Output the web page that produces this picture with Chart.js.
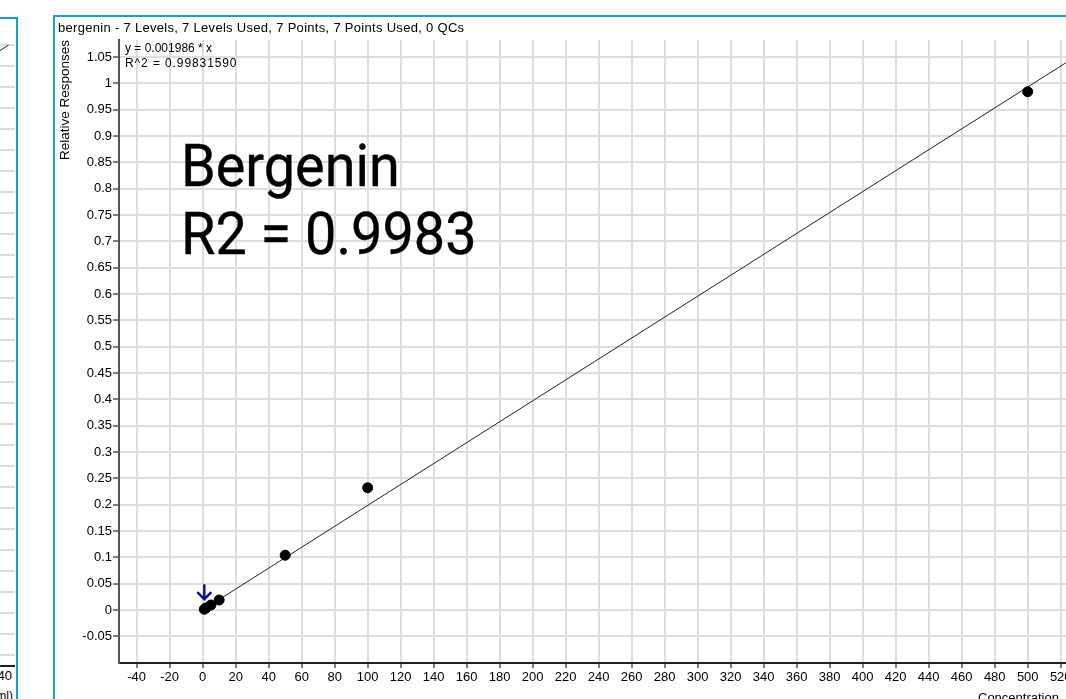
<!DOCTYPE html>
<html>
<head>
<meta charset="utf-8">
<title>Bergenin calibration</title>
<script src="https://cdn.jsdelivr.net/npm/chart.js@4/dist/chart.umd.min.js"></script>
<style>
  html, body { margin: 0; padding: 0; background: #fff; }
  body { width: 1066px; height: 699px; overflow: hidden; position: relative; font-family: 'Liberation Sans', Arial, sans-serif; }
  .abs { position: absolute; white-space: nowrap; }
  #leftPanel { left: 0; top: 17px; width: 16px; height: 690px; border-top: 2px solid #1b9ed3; border-right: 2px solid #1b9ed3; }
  #leftGrid { left: 0; top: 25px; width: 15px; height: 614px;
    background: repeating-linear-gradient(to bottom, #dcdcdc 0, #dcdcdc 2px, transparent 2px, transparent 21.05px); }
  #leftAxis { left: 0; top: 646px; width: 15px; height: 2px; background: #222; }
  #panel { left: 53px; top: 15px; width: 1100px; height: 700px; border-left: 2px solid #1b9ed3; border-top: 2px solid #1b9ed3; }
  #chart { position: absolute; left: 0; top: 0; }
  .small { font-size: 12px; color: #000; line-height: 14px; }
  .big { font-family: Roboto, 'Liberation Sans', sans-serif; font-size: 60px; line-height: 68px; color: #000;
    transform: scaleX(0.93); transform-origin: left top; -webkit-text-stroke: 0.4px #000; }
</style>
</head>
<body>
<div id="leftPanel" class="abs">
  <div id="leftGrid" class="abs"></div>
  <div id="leftAxis" class="abs"></div>
  <div class="abs" style="left:0;top:31px;width:10px;height:1px;background:#333;transform:rotate(-32deg);transform-origin:left center"></div>
  <div class="abs small" style="right:4px;top:650px;font-size:13px">40</div>
  <div class="abs small" style="right:3px;top:670px">(ng/ml)</div>
</div>
<div id="panel" class="abs"></div>
<canvas id="chart" width="1110" height="699"></canvas>

<div class="abs small" style="left:58px;top:21px;font-size:13px;letter-spacing:0.3px">bergenin - 7 Levels, 7 Levels Used, 7 Points, 7 Points Used, 0 QCs</div>
<div class="abs small" style="left:125px;top:41px">y = 0.001986 * x</div>
<div class="abs small" style="left:125px;top:56px;letter-spacing:0.9px">R^2 = 0.99831590</div>
<div class="abs big" style="left:181px;top:132px">Bergenin<br>R2 = 0.9983</div>
<div class="abs small" style="left:978px;top:691px;font-size:13px">Concentration</div>

<script>
// calibration levels
const concentrations = [1, 2, 5, 10, 50, 100, 500];
const responses = [0.0015, 0.004, 0.0095, 0.019, 0.104, 0.232, 0.984];

// fitted curve y = slope * x
const slope = 0.001986;
const fitRange = [0, 545];

const xTicks = [-40, -20, 0, 20, 40, 60, 80, 100, 120, 140, 160, 180, 200, 220, 240, 260,
  280, 300, 320, 340, 360, 380, 400, 420, 440, 460, 480, 500, 520];
const yTicks = [-0.05, 0, 0.05, 0.1, 0.15, 0.2, 0.25, 0.3, 0.35, 0.4, 0.45, 0.5, 0.55, 0.6,
  0.65, 0.7, 0.75, 0.8, 0.85, 0.9, 0.95, 1, 1.05];

const points = concentrations.map((c, i) => ({ x: c, y: responses[i] }));
const fitLine = fitRange.map(x => ({ x: x, y: slope * x }));

const tickFont = { family: 'Liberation Sans', size: 13 };

// small navy arrow above the lowest level
const arrowPlugin = {
  id: 'lowArrow',
  afterDatasetsDraw(chart) {
    const pt = chart.getDatasetMeta(0).data[0];
    if (!pt) return;
    const ctx = chart.ctx;
    const x = pt.x, y = pt.y;
    ctx.save();
    ctx.strokeStyle = '#12128f';
    ctx.lineWidth = 2.5;
    ctx.beginPath();
    ctx.moveTo(x, y - 25);
    ctx.lineTo(x, y - 10);
    ctx.moveTo(x - 7, y - 17);
    ctx.lineTo(x, y - 10);
    ctx.lineTo(x + 7, y - 17);
    ctx.stroke();
    ctx.restore();
  }
};

new Chart(document.getElementById('chart'), {
  type: 'scatter',
  data: {
    datasets: [
      {
        data: points,
        backgroundColor: '#000',
        borderColor: '#000',
        pointRadius: 5,
        pointHoverRadius: 5
      },
      {
        type: 'line',
        data: fitLine,
        borderColor: '#222',
        borderWidth: 1,
        pointRadius: 0,
        fill: false
      }
    ]
  },
  options: {
    responsive: false,
    animation: false,
    layout: { padding: { left: 55, top: 40, right: 10, bottom: 0 } },
    plugins: { legend: { display: false }, tooltip: { enabled: false } },
    scales: {
      x: {
        type: 'linear',
        min: -50.7,
        max: 543.8,
        afterBuildTicks: (s) => { s.ticks = xTicks.map(v => ({ value: v })); },
        afterFit: (s) => { s.height = 36; },
        grid: { color: '#dedede', lineWidth: 2, tickColor: '#000', tickLength: 5, tickWidth: 1 },
        border: { color: '#222', width: 2 },
        ticks: { autoSkip: false, maxRotation: 0, padding: 2, color: '#000', font: tickFont }
      },
      y: {
        type: 'linear',
        min: -0.1006,
        max: 1.0822,
        afterBuildTicks: (s) => { s.ticks = yTicks.map(v => ({ value: v })); },
        afterFit: (s) => { s.width = 64; },
        grid: { color: '#dedede', lineWidth: 2, tickColor: '#000', tickLength: 6, tickWidth: 1 },
        border: { color: '#555', width: 2 },
        ticks: {
          autoSkip: false, padding: 1, color: '#000', font: tickFont,
          callback: (v) => parseFloat(Number(v).toFixed(2)).toString()
        },
        title: {
          display: true, text: 'Relative Responses', align: 'end', color: '#000',
          font: { family: 'Liberation Sans', size: 13.5 }, padding: { top: 2, bottom: 0 }
        }
      }
    }
  },
  plugins: [arrowPlugin]
});
</script>
</body>
</html>
